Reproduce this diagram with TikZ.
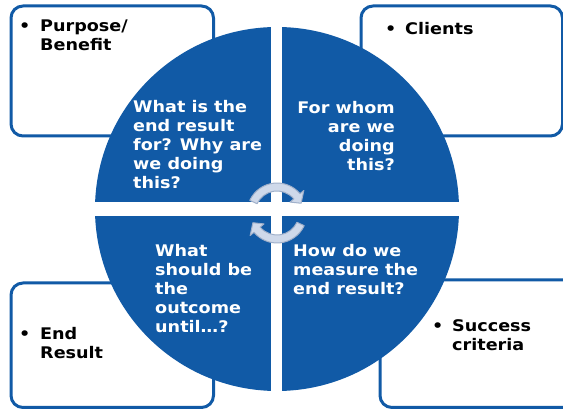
\documentclass[tikz,border=0pt]{standalone}
\usepackage{fontspec}
\newfontfamily\vfont[FakeStretch=1.1]{DejaVu Sans}
\definecolor{qblue}{RGB}{17,90,166}
\definecolor{arrfill}{RGB}{207,217,234}
\definecolor{arrline}{RGB}{160,176,202}
\newcommand\qlines[2]{\renewcommand\arraystretch{1}\begin{tabular}[t]{@{}#1@{}}#2\end{tabular}}
\newcommand\blines[1]{\renewcommand\arraystretch{1}\begin{tabular}[t]{@{}l@{}l@{}}#1\end{tabular}}
\begin{document}
\begin{tikzpicture}[x=1pt,y=1pt,
  infobox/.style={draw=qblue,line width=3pt,fill=white,rounded corners=12pt,rectangle,inner sep=0pt},
  qtext/.style={text=white,inner sep=0pt,font=\vfont\bfseries\fontsize{16}{19}\selectfont},
  btext/.style={text=black,inner sep=0pt,anchor=base west,font=\vfont\bfseries\fontsize{16}{18.3}\selectfont},
  cyc/.style={fill=arrfill,draw=arrline,line width=1pt,line join=round}]
\useasboundingbox (0,0) rectangle (563,412);
\clip (0,0) rectangle (563,412);
% boxes
\node[infobox,minimum width=202.5pt,minimum height=130pt,anchor=south west] (boxtl) at (9.5,274.5) {};
\node[infobox,minimum width=201.5pt,minimum height=130pt,anchor=south west] (boxtr) at (359.5,274.5) {};
\node[infobox,minimum width=202.5pt,minimum height=124.5pt,anchor=south west] (boxbl) at (9.5,3) {};
\node[infobox,minimum width=220pt,minimum height=127.5pt,anchor=south west] (boxbr) at (378.5,3) {};
% circle quadrants
\coordinate (cc) at (277,203);
\begin{scope}
  \clip (cc) circle[radius=182];
  \fill[qblue] (0,210) rectangle (271,412);
  \fill[qblue] (282,210) rectangle (563,412);
  \fill[qblue] (0,0) rectangle (271,196);
  \fill[qblue] (282,0) rectangle (563,196);
\end{scope}
% cycle arrows
\coordinate (ac) at (277,199);
\draw[cyc,shift={(ac)}] (155:30) arc[start angle=155,end angle=40,radius=30]
  -- (40:35) -- (22:26) -- (40:17) -- (40:22)
  arc[start angle=40,end angle=155,radius=22] -- cycle;
\draw[cyc,shift={(ac)}] (-25:30) arc[start angle=-25,end angle=-140,radius=30]
  -- (-140:35) -- (-158:26) -- (-140:17) -- (-140:22)
  arc[start angle=-140,end angle=-25,radius=22] -- cycle;
% quadrant texts
\node[qtext,anchor=base west] (q1) at (133,299) {\qlines{l}{What is the\\end result\\for? Why are\\we doing\\this?}};
\node[qtext,anchor=base east] (q2) at (395,298) {\qlines{r}{For whom\\are we\\doing\\this?}};
\node[qtext,anchor=base west] (q3) at (155,155) {\qlines{l}{What\\should be\\the\\outcome\\until…?}};
\node[qtext,anchor=base west] (q4) at (293,155) {\qlines{l}{How do we\\measure the\\end result?}};
% box texts
\node[btext] (t1) at (19,380) {\blines{\makebox[21pt][l]{•}&Purpose/\\&Benefit}};
\node[btext] (t2) at (385,377) {\blines{\makebox[20pt][l]{•}&Clients}};
\node[btext] (t3) at (19,72) {\blines{\makebox[21pt][l]{•}&End\\&Result}};
\node[btext] (t4) at (432,80) {\blines{\makebox[20pt][l]{•}&Success\\&criteria}};
\end{tikzpicture}
\end{document}
